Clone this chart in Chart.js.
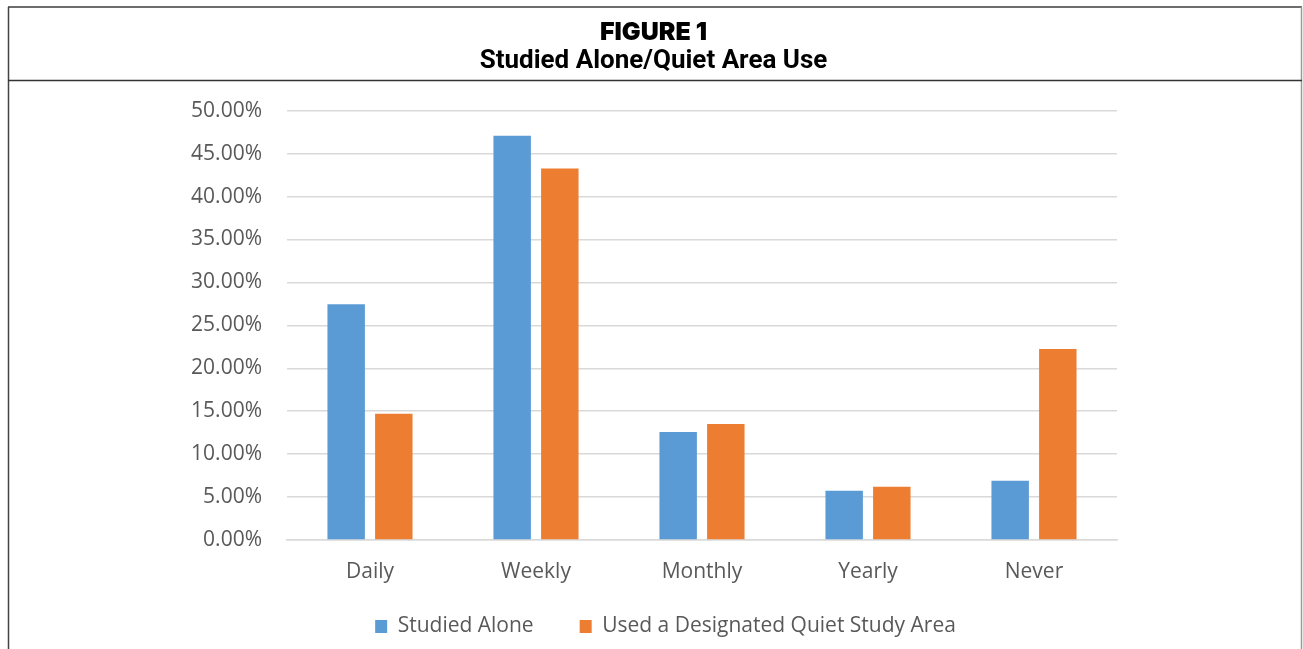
<!DOCTYPE html>
<html>
<head>
<meta charset="utf-8">
<script src="https://cdn.jsdelivr.net/npm/chart.js@4/dist/chart.umd.min.js"></script>
<style>
  html, body { margin: 0; padding: 0; background: #fff; }
  #wrap { width: 1303px; height: 649px; position: relative; }
</style>
</head>
<body>
<div id="wrap"><canvas id="chart" width="1303" height="649"></canvas></div>
<script>
// Survey frequencies (percent of respondents)
const categories = ['Daily', 'Weekly', 'Monthly', 'Yearly', 'Never'];
const studiedAlone = [27.47, 47.09, 12.59, 5.75, 6.91];
const quietStudyArea = [14.70, 43.28, 13.52, 6.20, 22.26];
const seriesNames = ['Studied Alone', 'Used a Designated Quiet Study Area'];
const yTickValues = [0, 5, 10, 15, 20, 25, 30, 35, 40, 45, 50];
const figureLabel = 'FIGURE 1';
const figureTitle = 'Studied Alone/Quiet Area Use';

const BLUE = '#5B9BD5';
const ORANGE = '#ED7D31';
const TEXT = '#595959';
const GRID = '#d9d9d9';

// Figure frame: outer box and the rule under the heading
const framePlugin = {
  id: 'frame',
  beforeDraw(chart) {
    const ctx = chart.ctx;
    ctx.save();
    ctx.fillStyle = '#fff';
    ctx.fillRect(0, 0, chart.width, chart.height);
    ctx.lineCap = 'butt';
    ctx.strokeStyle = '#6d6d6d';
    ctx.lineWidth = 2;
    ctx.beginPath(); ctx.moveTo(8, 7); ctx.lineTo(1302, 7); ctx.stroke();
    ctx.strokeStyle = '#444';
    ctx.lineWidth = 1.5;
    ctx.beginPath(); ctx.moveTo(8.5, 7); ctx.lineTo(8.5, chart.height); ctx.stroke();
    ctx.strokeStyle = '#9a9a9a';
    ctx.beginPath(); ctx.moveTo(1301.5, 7); ctx.lineTo(1301.5, chart.height); ctx.stroke();
    ctx.strokeStyle = '#333';
    ctx.beginPath(); ctx.moveTo(8, 80.5); ctx.lineTo(1302, 80.5); ctx.stroke();
    ctx.restore();
  },
  afterLayout(chart) {
    // place the legend row under the category labels, a little right of centre
    const lg = chart.legend;
    if (lg) {
      const h = lg.bottom - lg.top;
      lg.left += 12;
      lg.right += 12;
      lg.top = 570;
      lg.bottom = 570 + h;
    }
  }
};

new Chart(document.getElementById('chart'), {
  type: 'bar',
  data: {
    labels: categories,
    datasets: [
      { label: seriesNames[0], data: studiedAlone, backgroundColor: BLUE, borderWidth: 0,
        categoryPercentage: 0.574, barPercentage: 0.786 },
      { label: seriesNames[1], data: quietStudyArea, backgroundColor: ORANGE, borderWidth: 0,
        categoryPercentage: 0.574, barPercentage: 0.786 }
    ]
  },
  options: {
    responsive: false,
    devicePixelRatio: 1,
    animation: false,
    events: [],
    layout: { padding: { left: 190, right: 186, top: 8, bottom: -12 } },
    plugins: {
      title: {
        display: true,
        text: figureLabel,
        color: '#000',
        font: { family: 'Inter', size: 25, weight: '900', lineHeight: 1.1 },
        padding: { top: 10.5, bottom: 0 }
      },
      subtitle: {
        display: true,
        text: figureTitle,
        color: '#000',
        font: { family: 'Roboto', size: 26, weight: '700', lineHeight: 1.2 },
        padding: { top: 0, bottom: 33.5 }
      },
      legend: {
        display: true,
        position: 'bottom',
        labels: {
          color: TEXT,
          font: { family: 'Open Sans', size: 21 },
          boxWidth: 12,
          boxHeight: 13,
          padding: 46
        }
      },
      tooltip: { enabled: false }
    },
    scales: {
      x: {
        grid: { display: false, drawTicks: false },
        border: { display: true, color: GRID, width: 1.5 },
        ticks: { color: TEXT, font: { family: 'Open Sans', size: 21 }, padding: 19 },
        afterFit(scale) { scale.height = 44; }
      },
      y: {
        min: 0,
        max: 50,
        afterBuildTicks(scale) { scale.ticks = yTickValues.map(v => ({ value: v })); },
        afterFit(scale) { scale.width = 97; },
        grid: { color: GRID, lineWidth: 1.5, drawTicks: false },
        border: { display: false },
        ticks: {
          color: TEXT,
          font: { family: 'Open Sans', size: 21 },
          padding: 25,
          callback: v => v.toFixed(2) + '%'
        }
      }
    }
  },
  plugins: [framePlugin]
});
</script>
</body>
</html>
